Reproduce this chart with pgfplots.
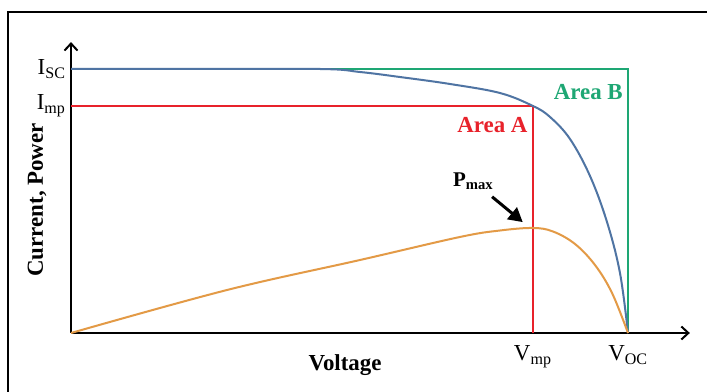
\documentclass[border=0pt]{standalone}
\usepackage{fontspec}
\setmainfont{Liberation Serif}
\usepackage{pgfplots}
\pgfplotsset{compat=1.18}
\usetikzlibrary{arrows.meta}
\definecolor{cgreen}{HTML}{1EA774}
\definecolor{cred}{HTML}{E8222B}
\definecolor{cblue}{HTML}{4F74A3}
\definecolor{corange}{HTML}{E39A46}
\newcommand{\bigf}{\fontsize{23}{27}\selectfont}
\begin{document}
\begin{tikzpicture}
\useasboundingbox (0,0) rectangle (707bp,392bp);
\fill[white] (0,0) rectangle (707bp,392bp);
\draw[line width=1.8bp] (8bp,0) -- (8bp,380bp) -- (707bp,380bp);
\begin{axis}[
  at={(71bp,59bp)}, anchor=south west,
  x=55.7bp, y=52.8bp,
  xmin=0, xmax=11.11, ymin=0, ymax=5.51,
  axis x line=bottom, axis y line=left,
  axis line style={line width=2bp, -{Straight Barb[length=7bp,width=13bp,line width=2bp]}},
  xtick={8.29,10}, xticklabels={V\textsubscript{mp}, V\textsubscript{OC}},
  ytick={4.3,5}, yticklabels={I\textsubscript{mp}, I\textsubscript{SC}},
  major tick length=0pt,
  tick label style={font=\bigf},
  xticklabel style={yshift=-9bp},
  yticklabel style={xshift=-2bp},
  clip=false,
]
\addplot[cgreen, line width=2bp] coordinates {(0,5) (10,5) (10,0)};
\addplot[cred, line width=2bp] coordinates {(0,4.3) (8.29,4.3) (8.29,0)};
\addplot[cblue, line width=2bp, smooth, tension=0.6] coordinates {
 (0,5) (2.0,5) (4.47,5) (5.189,4.943) (5.907,4.848) (6.804,4.716) (7.702,4.545)
 (8.294,4.299) (8.600,4.091) (8.959,3.674) (9.318,2.973) (9.623,2.102) (9.856,1.136) (10,0)};
\addplot[corange, line width=2bp, smooth, tension=0.6] coordinates {
 (0,0) (2.80,0.814) (5.19,1.383) (6.98,1.818) (7.70,1.941) (8.294,1.989)
 (8.654,1.922) (9.048,1.686) (9.407,1.288) (9.713,0.758) (10,0)};
\node[font=\bigf\bfseries] at (axis cs:4.92,-0.61) {Voltage};
\node[font=\bigf\bfseries, rotate=90] at (axis cs:-0.61,2.52) {Current, Power};
\node[font=\bigf\bfseries, text=cgreen, anchor=east, inner sep=0pt] at (axis cs:9.91,4.56) {Area B};
\node[font=\bigf\bfseries, text=cred, anchor=east, inner sep=0pt] at (axis cs:8.20,3.94) {Area A};
\node[font=\fontsize{21}{25}\selectfont\bfseries] at (axis cs:7.22,2.88) {P\textsubscript{max}};
\draw[line width=3bp, -{Triangle[length=14bp,width=15bp]}] (axis cs:7.56,2.58) -- (axis cs:8.11,2.10);
\end{axis}
\end{tikzpicture}
\end{document}
